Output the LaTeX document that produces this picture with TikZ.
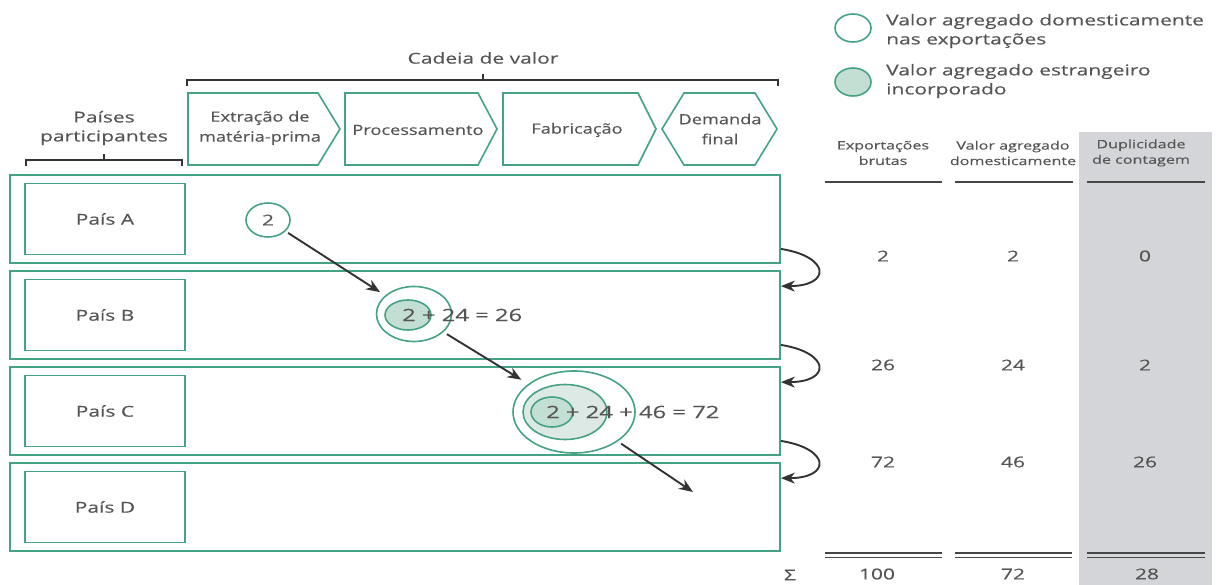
\documentclass[tikz,border=0pt]{standalone}
\usepackage{fontspec}
\setmainfont{Open Sans}[FakeStretch=1.4, FakeBold=0.3]
\newfontfamily\stagefont{Open Sans}[FakeStretch=1.3, FakeBold=0.3]
\usetikzlibrary{arrows.meta,calc,shapes.geometric}
\definecolor{grn}{HTML}{45A285}
\definecolor{txt}{HTML}{555555}
\definecolor{fillA}{HTML}{C3DFD4}
\definecolor{fillB}{HTML}{DDE9E5}
\definecolor{colbg}{HTML}{D3D5D9}
\definecolor{arr}{HTML}{333333}
\tikzset{
  rowbox/.style={draw=grn, line width=1.8pt, minimum width=770pt, minimum height=88pt, inner sep=0pt},
  lblbox/.style={draw=grn, line width=1.8pt, minimum width=160pt, minimum height=71pt, inner sep=0pt, text=txt},
  stagebox/.style={draw=grn, line width=1.6pt, fill=white},
  stagelbl/.style={text=txt, inner sep=0pt, align=center, font=\stagefont\fontsize{14}{20}\selectfont},
  conn/.style={draw=arr, line width=1.9pt, -{Stealth[length=14pt,width=11pt]}},
  brk/.style={draw=arr, line width=1.6pt},
  ell/.style={ellipse, draw=grn, line width=1.6pt, inner sep=0pt},
  txtn/.style={text=txt, inner sep=0pt},
  eqn/.style={text=txt, inner sep=0pt, font=\fontsize{17}{19}\selectfont},
  hdr/.style={text=txt, inner sep=0pt, align=center, font=\fontsize{11.5}{15.5}\selectfont},
  val/.style={text=txt, inner sep=0pt, font=\fontsize{15}{17}\selectfont},
  uline/.style={draw=arr!90, line width=1.5pt},
}
\begin{document}
\begin{tikzpicture}[x=1pt, y=-1pt, font=\fontsize{15}{19}\selectfont]
\useasboundingbox (0,0) rectangle (1225,585);
\fill[white] (0,0) rectangle (1225,585);
% grey column
\fill[colbg] (1079,132) rectangle (1212,585);

% brackets
\draw[brk] (187,86) -- (187,80) -- (778,80) -- (778,86);
\draw[brk] (483,80) -- (483,74);
\node[txtn] (cadeia) at (483,58) {Cadeia de valor};
\draw[brk] (26,166) -- (26,160) -- (182,160) -- (182,166);
\draw[brk] (104,160) -- (104,154);
\node[txtn, align=center] (paises) at (104,128) {Países\\participantes};

% value chain stages
\draw[stagebox] (188,93) -- (318,93) -- (340,129) -- (318,165) -- (188,165) -- cycle;
\node[stagelbl] (s1) at (260,128) {Extração de\\matéria-prima};
\draw[stagebox] (345,93) -- (478,93) -- (497,129) -- (478,165) -- (345,165) -- cycle;
\node[stagelbl] (s2) at (418,130) {Processamento};
\draw[stagebox] (503,93) -- (638,93) -- (656,129) -- (638,165) -- (503,165) -- cycle;
\node[stagelbl] (s3) at (577,130) {Fabricação};
\draw[stagebox] (662,129) -- (684,93) -- (755,93) -- (777,129) -- (755,165) -- (684,165) -- cycle;
\node[stagelbl] (s4) at (720,129) {Demanda\\final};

% rows
\node[rowbox] (rowA) at (395,219) {};
\node[rowbox] (rowB) at (395,315) {};
\node[rowbox] (rowC) at (395,411) {};
\node[rowbox] (rowD) at (395,507) {};
\node[lblbox] (pA) at (105,219) {País A};
\node[lblbox] (pB) at (105,315) {País B};
\node[lblbox] (pC) at (105,411) {País C};
\node[lblbox] (pD) at (105,507) {País D};

% circles
\node[ell, fill=white, minimum width=44pt, minimum height=34pt, text=txt] (cA) at (268,220) {2};
\node[ell, fill=white, minimum width=75pt, minimum height=55pt] (bOut) at (414,314) {};
\node[ell, fill=fillA, minimum width=46pt, minimum height=30pt] (bIn) at (408,315) {};
\node[eqn, anchor=west] (bTxt) at (402,315) {2 + 24 = 26};
\node[ell, fill=white, minimum width=122pt, minimum height=82pt] (cOut) at (574,412) {};
\node[ell, fill=fillB, minimum width=84pt, minimum height=55pt] (cMid) at (565,412) {};
\node[ell, fill=fillA, minimum width=42pt, minimum height=30pt] (cIn) at (552,412) {};
\node[eqn, anchor=west] (cTxt) at (546,412) {2 + 24 + 46 = 72};

% flow arrows
\coordinate (dEnd) at (693,492);
\draw[conn, shorten <=3pt, shorten >=6pt] (cA) -- (bOut);
\draw[conn, shorten <=4pt, shorten >=8pt] (bOut) -- (cOut);
\draw[conn, shorten <=4pt] (cOut) -- (dEnd);

% curved arrows
\draw[conn] ([yshift=15pt]rowA.south east) .. controls +(50,8) and +(50,0) .. ([yshift=-16pt]rowB.north east);
\draw[conn] ([yshift=15pt]rowB.south east) .. controls +(50,8) and +(50,0) .. ([yshift=-16pt]rowC.north east);
\draw[conn] ([yshift=15pt]rowC.south east) .. controls +(50,8) and +(50,0) .. ([yshift=-16pt]rowD.north east);

% legend
\node[ell, fill=white, minimum width=36pt, minimum height=28pt] (lg1) at (853,28) {};
\node[txtn, anchor=west, align=left] (lt1) at (886,31) {Valor agregado domesticamente\\nas exportações};
\node[ell, fill=fillA, minimum width=36pt, minimum height=28pt] (lg2) at (853,82) {};
\node[txtn, anchor=west, align=left] (lt2) at (886,81) {Valor agregado estrangeiro\\incorporado};

% table headers
\node[hdr] (h1) at (883,153) {Exportações\\brutas};
\node[hdr] (h2) at (1013,153) {Valor agregado\\domesticamente};
\node[hdr] (h3) at (1141,153) {Duplicidade\\de contagem};
\draw[uline] (825,182) -- (942,182);
\draw[uline] (955,182) -- (1073,182);
\draw[uline] (1087,182) -- (1205,182);

% values
\node[val] (v11) at (883,256) {2};
\node[val] (v12) at (1013,256) {2};
\node[val] (v13) at (1145,256) {0};
\node[val] (v21) at (883,365) {26};
\node[val] (v22) at (1013,365) {24};
\node[val] (v23) at (1145,365) {2};
\node[val] (v31) at (883,462) {72};
\node[val] (v32) at (1013,462) {46};
\node[val] (v33) at (1145,462) {26};

% sums
\foreach \a/\b in {825/942, 955/1072, 1087/1205} {
  \draw[uline, line width=1.3pt] (\a,553) -- (\b,553);
  \draw[uline, line width=1.3pt] (\a,557.5) -- (\b,557.5);
}
\node[val] (sig) at (790,575) {Σ};
\node[val] (s100) at (877,574) {100};
\node[val] (s72) at (1013,574) {72};
\node[val] (s28) at (1147,574) {28};
\end{tikzpicture}
\end{document}
